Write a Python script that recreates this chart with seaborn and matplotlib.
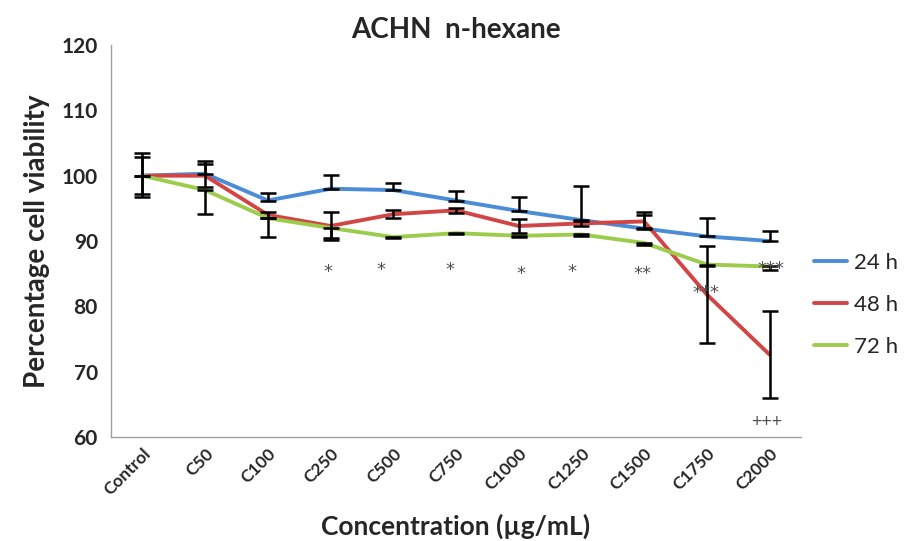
import numpy as np
import pandas as pd
import matplotlib
matplotlib.use("Agg")
import matplotlib.pyplot as plt
import seaborn as sns

# Dữ liệu
concentrations = ["Control", "C50", "C100", "C250", "C500", "C750",
                  "C1000", "C1250", "C1500", "C1750", "C2000"]
viab_24h = [100, 100.3, 96.2, 98.0, 97.8, 96.2, 94.6, 93.2, 91.9, 90.7, 90.0]
viab_48h = [100, 100.0, 94.0, 92.3, 94.1, 94.7, 92.3, 92.7, 93.0, 81.8, 72.6]
viab_72h = [100, 97.8, 93.5, 92.0, 90.6, 91.2, 90.8, 91.0, 89.7, 86.4, 86.1]

# Sai số: 24 h chỉ vẽ phía trên, 48 h hai phía, 72 h chỉ phía dưới
err_24h_up = [3.5, 1.9, 1.2, 2.1, 1.1, 1.5, 2.2, 5.2, 2.6, 2.8, 1.5]
err_48h = [2.8, 1.8, 0.5, 2.1, 0.6, 0.4, 1.0, 0.4, 1.0, 7.4, 6.7]
err_72h_down = [3.2, 3.6, 2.9, 1.6, 0.2, 0.2, 0.2, 0.2, 0.3, 0.2, 0.5]

# Ký hiệu ý nghĩa thống kê
sig_labels = ["*", "*", "*", "*", "*", "**", "***", "***", "+++"]
sig_x = [2.96, 3.80, 4.90, 6.04, 6.85, 7.98, 8.98, 10.02, 9.96]
sig_y = [85.3, 85.5, 85.5, 85.0, 85.2, 84.9, 82.1, 85.7, 62.3]

series = ["24 h", "48 h", "72 h"]
colors = ["#4a8cd6", "#d24545", "#9ccc4c"]

df = pd.DataFrame({
    "conc": concentrations * 3,
    "viability": viab_24h + viab_48h + viab_72h,
    "time": np.repeat(series, len(concentrations)),
})

sns.set_style("white")
plt.rcParams["font.family"] = ["Lato", "DejaVu Sans"]

fig = plt.figure(figsize=(9.19, 5.41), dpi=100)
ax = fig.add_axes([0.1208, 0.1922, 0.7508, 0.7246])

sns.lineplot(data=df, x="conc", y="viability", hue="time",
             palette=colors, linewidth=2.8, sort=False, ax=ax)

# Thanh sai số màu đen
x = np.arange(len(concentrations))
zeros = np.zeros(len(concentrations))
ekw = dict(fmt="none", ecolor="black", elinewidth=1.8, capsize=5.5, capthick=1.8, zorder=3)
ax.errorbar(x, viab_24h, yerr=[zeros, err_24h_up], **ekw)
ax.errorbar(x, viab_48h, yerr=[err_48h, err_48h], **ekw)
ax.errorbar(x, viab_72h, yerr=[err_72h_down, zeros], **ekw)

for lab, sx, sy in zip(sig_labels, sig_x, sig_y):
    if lab == "+++":
        ax.text(sx, sy, lab, ha="center", va="center", fontsize=13, color="#505050")
    else:
        ax.text(sx, sy, lab, ha="center", va="center", fontsize=13,
                color="#505050", family="DejaVu Sans")

ax.set_ylim(60, 120)
ax.set_xlim(-0.5, len(concentrations) - 0.5)
ax.set_yticks(range(60, 121, 10))
ax.set_xticks(x)
ax.set_xticklabels(concentrations, rotation=45, ha="right",
                   rotation_mode="anchor", fontsize=12.5, fontweight="bold")
ax.set_xticks(np.arange(-0.5, len(concentrations)), minor=True)
ax.tick_params(axis="x", which="major", length=0, pad=6)
ax.tick_params(axis="x", which="minor", length=5, color="#a0a0a0", width=1)
ax.tick_params(axis="y", length=6, color="#a0a0a0", width=1, labelsize=15)
for t in ax.get_yticklabels():
    t.set_fontweight("bold")

for s in ["top", "right"]:
    ax.spines[s].set_visible(False)
for s in ["left", "bottom"]:
    ax.spines[s].set_color("#a0a0a0")
    ax.spines[s].set_linewidth(1)

ax.set_title("ACHN  n-hexane", fontsize=20, fontweight="bold", pad=5)
ax.set_ylabel("Percentage cell viability", fontsize=20, fontweight="bold", labelpad=8)
ax.set_xlabel("Concentration (µg/mL)", fontsize=19, fontweight="bold", labelpad=11)

ax.legend(loc="center left", bbox_to_anchor=(0.99, 0.337), frameon=False,
          fontsize=16, handlelength=1.5, handletextpad=0.3, labelspacing=1.0)

plt.savefig("out.png", dpi=100)
plt.close()
